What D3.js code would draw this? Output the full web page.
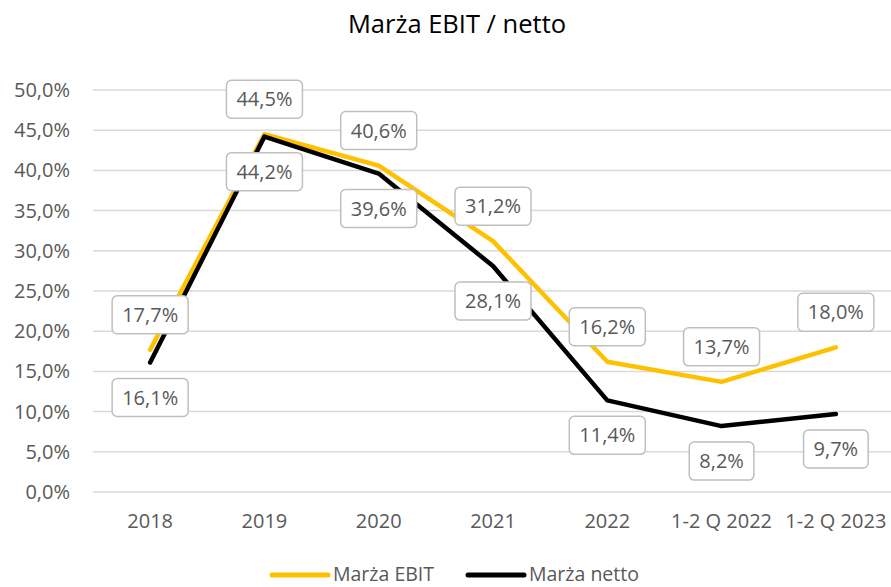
<!DOCTYPE html>
<html>
<head>
<meta charset="utf-8">
<script src="https://cdn.jsdelivr.net/npm/d3@7"></script>
<style>
  body { margin: 0; background: #fff; }
  svg text { font-family: "Open Sans", sans-serif; }
</style>
</head>
<body>
<svg id="chart" width="891" height="587"></svg>
<script>
const categories = ["2018", "2019", "2020", "2021", "2022", "1-2 Q 2022", "1-2 Q 2023"];
const ebitValues = [17.7, 44.5, 40.6, 31.2, 16.2, 13.7, 18.0];
const nettoValues = [16.1, 44.2, 39.6, 28.1, 11.4, 8.2, 9.7];
const yTicks = [0, 5, 10, 15, 20, 25, 30, 35, 40, 45, 50];

const svg = d3.select("#chart");
const pl = d3.formatLocale({ decimal: ",", thousands: " ", grouping: [3], currency: ["", " zł"] });
const fmt = v => pl.format(".1f")(v) + "%";

const x = d3.scaleBand().domain(categories).range([93, 893]);
const cx = c => x(c) + x.bandwidth() / 2;
const y = d3.scaleLinear().domain([0, 50]).range([492, 90]);

// title
svg.append("text")
  .attr("x", 457).attr("y", 33)
  .attr("text-anchor", "middle")
  .attr("font-size", 25.5)
  .attr("fill", "#000")
  .text("Marża EBIT / netto");

// grid
svg.append("g").selectAll("line")
  .data(yTicks)
  .join("line")
  .attr("x1", 93).attr("x2", 891)
  .attr("y1", d => y(d)).attr("y2", d => y(d))
  .attr("stroke", "#d9d9d9").attr("stroke-width", 1.5);

// y labels
svg.append("g").selectAll("text")
  .data(yTicks)
  .join("text")
  .attr("x", 70).attr("y", d => y(d))
  .attr("dy", "0.35em")
  .attr("text-anchor", "end")
  .attr("font-size", 20)
  .attr("fill", "#595959")
  .text(d => fmt(d));

// x labels
svg.append("g").selectAll("text")
  .data(categories)
  .join("text")
  .attr("x", d => cx(d)).attr("y", 521)
  .attr("dy", "0.35em")
  .attr("text-anchor", "middle")
  .attr("font-size", 20)
  .attr("fill", "#595959")
  .text(d => d);

const series = [
  { name: "Marża EBIT", values: ebitValues, color: "#FFC000", offset: -35 },
  { name: "Marża netto", values: nettoValues, color: "#000000", offset: 35 }
];

const line = d3.line().x((d, i) => cx(categories[i])).y(d => y(d));

svg.append("g").selectAll("path")
  .data(series)
  .join("path")
  .attr("d", d => line(d.values))
  .attr("fill", "none")
  .attr("stroke", d => d.color)
  .attr("stroke-width", 4.5)
  .attr("stroke-linejoin", "round")
  .attr("stroke-linecap", "round");

// data labels
series.forEach(s => {
  const g = svg.append("g");
  s.values.forEach((v, i) => {
    const px = cx(categories[i]);
    const py = y(v) + s.offset;
    const lg = g.append("g").attr("transform", `translate(${px},${py})`);
    const rect = lg.append("rect");
    const t = lg.append("text")
      .attr("text-anchor", "middle")
      .attr("dy", "0.35em")
      .attr("font-size", 20)
      .attr("fill", "#595959")
      .text(fmt(v));
    const w = t.node().getComputedTextLength() + 20;
    const h = 38;
    rect.attr("x", -w / 2).attr("y", -h / 2)
      .attr("width", w).attr("height", h)
      .attr("rx", 5)
      .attr("fill", "#fff")
      .attr("stroke", "#bfbfbf")
      .attr("stroke-width", 1.5);
  });
});

// legend
const legendItems = [
  { name: "Marża EBIT", color: "#FFC000", x0: 272 },
  { name: "Marża netto", color: "#000000", x0: 468 }
];
const lg = svg.append("g");
legendItems.forEach(d => {
  lg.append("line")
    .attr("x1", d.x0).attr("x2", d.x0 + 56)
    .attr("y1", 575).attr("y2", 575)
    .attr("stroke", d.color).attr("stroke-width", 5)
    .attr("stroke-linecap", "round");
  lg.append("text")
    .attr("x", d.x0 + 61).attr("y", 575)
    .attr("dy", "0.32em")
    .attr("font-size", 19.5)
    .attr("fill", "#595959")
    .text(d.name);
});
</script>
</body>
</html>
